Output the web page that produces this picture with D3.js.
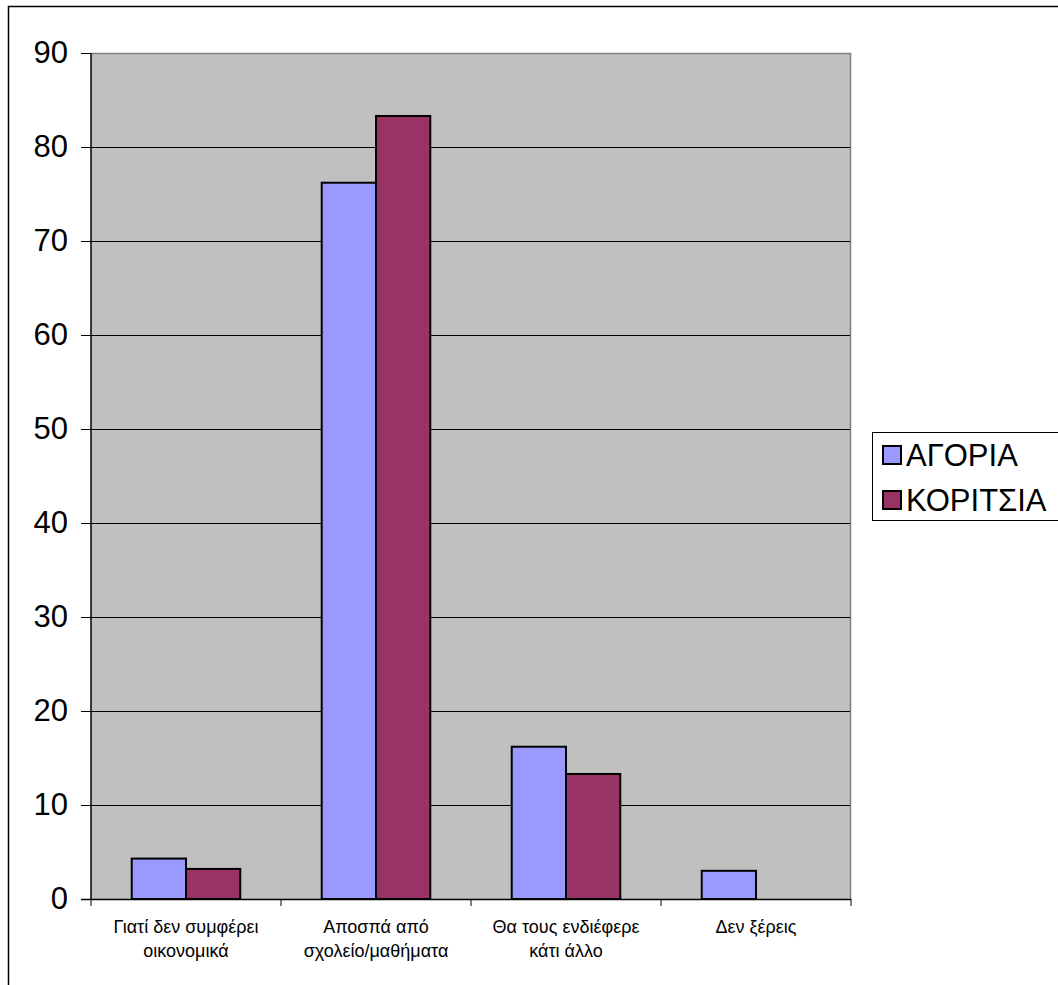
<!DOCTYPE html>
<html><head><meta charset="utf-8">
<script src="https://cdn.jsdelivr.net/npm/d3@7"></script>
<style>
html,body{margin:0;padding:0;background:#fff;overflow:hidden;}
svg{display:block;font-family:"Liberation Sans",Arial,sans-serif;}
</style></head>
<body>
<svg id="chart" width="1058" height="985"></svg>
<script>
const categories = [["Γιατί δεν συμφέρει","οικονομικά"],["Αποσπά από","σχολείο/μαθήματα"],["Θα τους ενδιέφερε","κάτι άλλο"],["Δεν ξέρεις"]];
const seriesNames = ["ΑΓΟΡΙΑ","ΚΟΡΙΤΣΙΑ"];
const agoria = [4.3, 76.2, 16.2, 3.0];
const koritsia = [3.2, 83.3, 13.3, 0];
const colors = ["#9999FF","#993366"];
const yTicks = [0,10,20,30,40,50,60,70,80,90];

const svg = d3.select("#chart");
const L = 91, R = 851, T = 53, B = 899;

// outer frame
svg.append("path").attr("d", "M8.5,990 V6.5 H1065").attr("fill","none").attr("stroke","#000").attr("stroke-width",1.5);

const x = d3.scaleBand().domain(d3.range(categories.length)).range([L,R]);
const y = d3.scaleLinear().domain([0,90]).range([B,T]);
const groupW = x.bandwidth()/1.75;
const xs = d3.scaleBand().domain(d3.range(2)).range([0,groupW]);

// plot background
svg.append("rect").attr("x",L).attr("y",T).attr("width",R-L).attr("height",B-T).attr("fill","#C0C0C0");
// plot border top/right
svg.append("path").attr("d",`M${L},${T+0.5} H${R-0.5} V${B}`).attr("fill","none").attr("stroke","#808080").attr("stroke-width",1.5);

// gridlines
svg.append("g").selectAll("line").data(yTicks.filter(d=>d>0 && d<90)).join("line")
  .attr("x1",L).attr("x2",R-1).attr("y1",d=>Math.round(y(d))+0.5).attr("y2",d=>Math.round(y(d))+0.5)
  .attr("stroke","#000").attr("stroke-width",1);

// bars
const data = [agoria, koritsia];
const bars = svg.append("g");
data.forEach((vals,si)=>{
  bars.selectAll(null).data(vals.map((v,i)=>({v,i}))).join("rect")
    .filter(d=>d.v>0)
    .attr("x",d=>x(d.i)+(x.bandwidth()-groupW)/2+xs(si))
    .attr("y",d=>y(d.v))
    .attr("width",xs.bandwidth())
    .attr("height",d=>B-y(d.v))
    .attr("fill",colors[si]).attr("stroke","#000").attr("stroke-width",2);
});

// y axis
const yAxis = d3.axisLeft(y).tickValues(yTicks).tickSize(10).tickPadding(13);
const gy = svg.append("g").attr("transform",`translate(${L},0)`).call(yAxis);
gy.select(".domain").attr("stroke","#000").attr("stroke-width",1.5).attr("d",`M0,${T}V${B}`);
gy.selectAll(".tick line").attr("stroke","#000").attr("stroke-width",1);
gy.selectAll(".tick text").attr("font-size",31).attr("fill","#000").attr("font-family","Liberation Sans, Arial, sans-serif");

// x axis
const gx = svg.append("g").attr("transform",`translate(0,${B})`);
gx.append("line").attr("x1",L-10).attr("x2",R).attr("y1",0.5).attr("y2",0.5).attr("stroke","#000").attr("stroke-width",1.5);
const bounds = d3.range(categories.length+1).map(i=> i<categories.length ? x(i) : R);
gx.selectAll(".xt").data(bounds).join("line").attr("class","xt")
  .attr("x1",d=>d).attr("x2",d=>d).attr("y1",0).attr("y2",7).attr("stroke","#000").attr("stroke-width",1);
const labels = gx.selectAll(".xl").data(categories).join("text").attr("class","xl")
  .attr("text-anchor","middle").attr("font-size",18).attr("fill","#000")
  .attr("transform",(d,i)=>`translate(${x(i)+x.bandwidth()/2},34)`);
labels.selectAll("tspan").data(d=>d).join("tspan").attr("x",0).attr("dy",(d,j)=>j===0?0:24).text(d=>d);

// legend
const lg = svg.append("g");
lg.append("rect").attr("x",872.5).attr("y",432.5).attr("width",200).attr("height",88).attr("fill","#fff").attr("stroke","#000").attr("stroke-width",1);
seriesNames.forEach((n,i)=>{
  const cy = 455 + i*45;
  lg.append("rect").attr("x",883).attr("y",cy-9).attr("width",18).attr("height",18).attr("fill",colors[i]).attr("stroke","#000").attr("stroke-width",2);
  lg.append("text").attr("x",906).attr("y",cy+11).attr("font-size",31).attr("fill","#000").text(n);
});
</script>
</body></html>
